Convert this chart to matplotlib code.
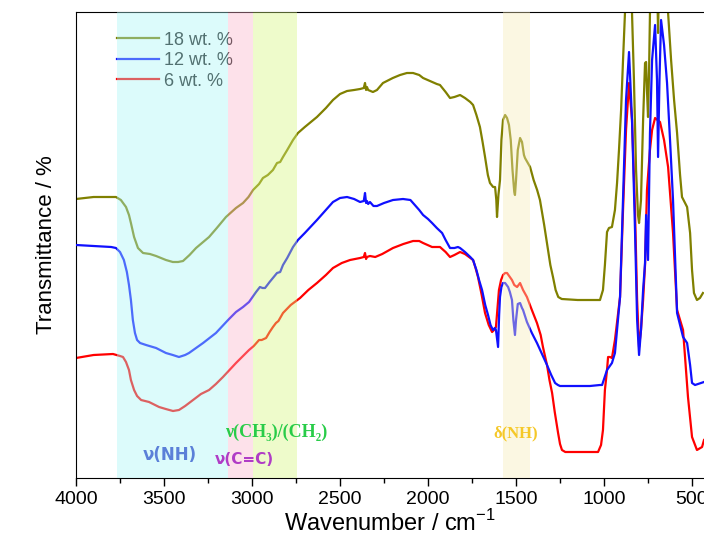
import matplotlib.pyplot as plt
from matplotlib.ticker import MultipleLocator

# Спектры ИК (пропускание в условных единицах, смещение кривых по вертикали)
wn_18 = [4000, 3900, 3800, 3773, 3745, 3716, 3699, 3688, 3670, 3648, 3619, 3580, 3545, 3489, 3450,
         3420, 3392, 3355, 3318, 3244, 3200, 3148, 3091, 3051, 3020, 2994, 2960, 2938, 2910, 2881,
         2858, 2840, 2824, 2800, 2767, 2739, 2700, 2631, 2580, 2540, 2500, 2460, 2420, 2386, 2365,
         2358, 2352, 2347, 2340, 2313, 2290, 2256, 2200, 2159, 2120, 2085, 2050, 2028, 1977, 1950,
         1932, 1900, 1875, 1850, 1818, 1790, 1760, 1744, 1725, 1705, 1690, 1676, 1660, 1648, 1630,
         1619, 1612, 1608, 1600, 1591, 1583, 1574, 1562, 1551, 1540, 1530, 1520, 1510, 1506, 1500,
         1490, 1477, 1466, 1455, 1449, 1436, 1420, 1400, 1380, 1364, 1340, 1324, 1305, 1290, 1275,
         1260, 1240, 1150, 1080, 1023, 1006, 995, 983, 972, 955, 938, 926, 915, 903, 892,
         881, 870, 850, 841, 830, 818, 807, 801, 790, 778, 767, 761, 756, 750, 744,
         739, 720, 700, 693, 686, 660, 636, 619, 602, 585, 568, 557, 540, 528, 511,
         500, 489, 472, 455, 438]
tr_18 = [281, 283, 283, 283, 280, 273, 265, 257, 243, 232, 227, 226, 224, 220, 218,
         218, 219, 225, 232, 243, 252, 263, 272, 277, 283, 290, 296, 302, 305, 310,
         317, 318, 323, 330, 340, 347, 353, 363, 372, 380, 386, 389, 390, 391, 392,
         397, 390, 393, 390, 388, 390, 397, 402, 405, 407, 407, 405, 402, 398, 396,
         395, 388, 382, 383, 385, 382, 378, 375, 365, 353, 338, 323, 305, 297, 293,
         293, 280, 263, 285, 300, 340, 360, 365, 362, 355, 340, 310, 288, 285, 300,
         330, 342, 338, 325, 322, 318, 313, 300, 290, 280, 255, 237, 215, 203, 190,
         183, 181, 180, 180, 180, 190, 215, 248, 252, 253, 270, 297, 330, 370, 420,
         467, 540, 540, 467, 400, 310, 265, 257, 280, 360, 417, 418, 390, 363, 410,
         467, 540, 520, 447, 520, 540, 467, 420, 380, 347, 305, 283, 277, 273, 247,
         210, 187, 180, 182, 187]

wn_12 = [4000, 3900, 3800, 3773, 3750, 3728, 3711, 3699, 3688, 3677, 3665, 3653, 3636, 3602, 3545,
         3489, 3450, 3415, 3380, 3358, 3318, 3278, 3205, 3136, 3091, 3051, 3017, 2977, 2955, 2940,
         2926, 2900, 2858, 2840, 2824, 2800, 2767, 2739, 2700, 2631, 2580, 2540, 2500, 2460, 2420,
         2386, 2365, 2358, 2352, 2347, 2340, 2330, 2310, 2290, 2250, 2199, 2142, 2100, 2085, 2050,
         2028, 2000, 1977, 1950, 1920, 1900, 1875, 1850, 1830, 1818, 1790, 1760, 1744, 1725, 1710,
         1693, 1675, 1659, 1645, 1631, 1620, 1614, 1607, 1602, 1596, 1591, 1583, 1574, 1562, 1545,
         1535, 1523, 1515, 1506, 1500, 1490, 1477, 1466, 1460, 1438, 1410, 1381, 1350, 1324, 1300,
         1278, 1262, 1250, 1080, 1023, 1011, 983, 955, 938, 909, 892, 875, 858, 841, 824,
         812, 801, 790, 778, 767, 761, 750, 739, 727, 710, 699, 693, 685, 676, 659,
         642, 625, 608, 585, 551, 528, 511, 500, 483, 432]
tr_12 = [235, 234, 233, 232, 228, 220, 208, 195, 180, 160, 147, 140, 137, 135, 132,
         127, 125, 123, 125, 127, 132, 137, 147, 160, 168, 173, 178, 188, 193, 192,
         192, 198, 207, 208, 215, 222, 233, 240, 247, 260, 270, 278, 282, 283, 281,
         278, 279, 287, 277, 279, 276, 278, 274, 274, 277, 280, 281, 280, 277, 270,
         265, 261, 257, 252, 247, 240, 232, 232, 233, 232, 228, 223, 220, 210, 200,
         190, 175, 165, 155, 150, 152, 150, 140, 133, 165, 183, 193, 197, 197, 193,
         188, 180, 160, 145, 160, 176, 177, 172, 170, 158, 147, 137, 125, 115, 105,
         97, 95, 94, 94, 95, 95, 110, 117, 127, 183, 280, 380, 428, 360, 250,
         160, 125, 150, 190, 217, 265, 220, 347, 420, 455, 400, 323, 400, 460, 435,
         397, 340, 280, 167, 143, 137, 115, 97, 95, 98]

wn_6 = [4000, 3900, 3790, 3750, 3733, 3716, 3699, 3688, 3670, 3653, 3630, 3585, 3528, 3490, 3449,
        3415, 3380, 3335, 3290, 3244, 3205, 3165, 3091, 3017, 2990, 2960, 2945, 2920, 2900, 2881,
        2864, 2850, 2824, 2780, 2727, 2680, 2631, 2580, 2540, 2490, 2443, 2386, 2365, 2358, 2352,
        2347, 2330, 2300, 2260, 2199, 2140, 2085, 2050, 2028, 1977, 1950, 1932, 1900, 1875, 1850,
        1818, 1790, 1760, 1744, 1730, 1716, 1695, 1676, 1655, 1636, 1625, 1614, 1605, 1597, 1585,
        1574, 1562, 1551, 1535, 1523, 1510, 1494, 1477, 1460, 1438, 1410, 1381, 1360, 1347, 1324,
        1310, 1295, 1280, 1261, 1250, 1239, 1220, 1136, 1034, 1017, 1006, 995, 983, 977, 966,
        955, 938, 909, 892, 875, 858, 841, 824, 812, 801, 790, 778, 767, 756, 739,
        727, 710, 682, 659, 636, 608, 585, 551, 523, 500, 472, 443, 432]
tr_6 = [122, 125, 126, 124, 123, 118, 110, 100, 90, 84, 80, 78, 73, 71, 69,
        70, 74, 80, 86, 90, 96, 103, 117, 130, 134, 140, 140, 142, 148, 153,
        157, 159, 167, 175, 182, 190, 197, 205, 212, 217, 220, 222, 223, 227, 221,
        223, 224, 223, 226, 232, 236, 239, 239, 237, 233, 233, 233, 228, 223, 225,
        228, 226, 222, 220, 212, 203, 185, 167, 155, 148, 150, 153, 172, 190, 200,
        205, 207, 207, 203, 200, 195, 193, 197, 190, 183, 170, 157, 145, 133, 115,
        100, 87, 68, 47, 36, 30, 28, 28, 28, 35, 50, 90, 110, 123, 123,
        122, 140, 183, 270, 350, 397, 360, 270, 180, 133, 150, 180, 215, 290, 330,
        350, 362, 358, 340, 313, 247, 170, 150, 83, 43, 30, 33, 40]

labels = ['18 wt. %', '12 wt. %', '6 wt. %']

# Полосы поглощения: (начало, конец, цвет)
bands = [(3767, 3136, '#a8f5f5'), (3136, 2994, '#fab4cc'), (2994, 2744, '#d6f77e'), (1574, 1420, '#f7ebb8')]

plt.rcParams['font.family'] = ['Liberation Sans', 'DejaVu Sans']

fig = plt.figure(figsize=(7.04, 5.47), dpi=100)
ax = fig.add_axes([76 / 704, 69 / 547, 628 / 704, 466 / 547])

l6, = ax.plot(wn_6, tr_6, color='#ff0000', lw=1.6, zorder=2)
l12, = ax.plot(wn_12, tr_12, color='#1010ff', lw=1.6, zorder=3)
l18, = ax.plot(wn_18, tr_18, color='#808000', lw=1.6, zorder=1)

leg = ax.legend([l18, l12, l6], labels, loc='upper left', bbox_to_anchor=(0.066, 0.958), frameon=False,
                fontsize=13, handlelength=2.3, handletextpad=0.3, labelspacing=0.2,
                borderpad=0, borderaxespad=0)
leg.set_zorder(4)
for t in leg.get_texts():
    t.set_color('#1a1a1a')

# Цветные области поверх кривых
for a, b, c in bands:
    ax.axvspan(a, b, color=c, alpha=0.4, lw=0, zorder=5)

ax.text(3466, 25, 'ν(NH)', color='#5b80d8', fontsize=12, fontweight='bold', family='DejaVu Sans',
        ha='center', va='center', zorder=6)
ax.text(3045, 20, 'ν(C=C)', color='#b03cc6', fontsize=11, fontweight='bold', family='DejaVu Sans',
        ha='center', va='center', zorder=6)
ax.text(2864, 48, 'ν(CH₃)/(CH₂)', color='#28cc48', fontsize=13, fontweight='bold',
        family=['Liberation Serif', 'DejaVu Serif'], ha='center', va='center', zorder=6)
ax.text(1500, 47, 'δ(NH)', color='#f5c828', fontsize=12, fontweight='bold',
        family=['Liberation Serif', 'DejaVu Serif'], ha='center', va='center', zorder=6)

ax.set_xlim(4000, 432)
ax.set_ylim(2, 468)
ax.set_yticks([])
ax.spines['right'].set_visible(False)
ax.xaxis.set_major_locator(MultipleLocator(500))
ax.xaxis.set_minor_locator(MultipleLocator(250))
ax.tick_params(axis='x', which='major', length=6, width=1, labelsize=14, pad=3)
ax.tick_params(axis='x', which='minor', length=3.5, width=1)
ax.set_xlabel(r'Wavenumber / cm$^{\mathregular{-1}}$', fontsize=17, labelpad=2)
ax.set_ylabel('Transmittance / %', fontsize=16, labelpad=14)

fig.savefig('out.png', dpi=100)
